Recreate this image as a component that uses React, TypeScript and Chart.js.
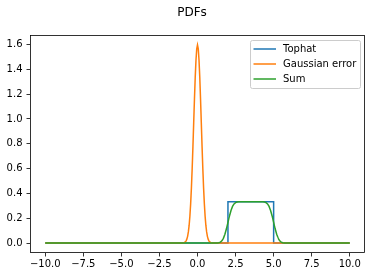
import React, { useEffect, useRef } from 'react';
import { Chart, registerables } from 'chart.js';
Chart.register(...registerables);

const title = 'PDFs';
const seriesNames = ['Tophat', 'Gaussian error', 'Sum'];
const seriesColors = ['#1f77b4', '#ff7f0e', '#2ca02c'];
const xTicks = [-10, -7.5, -5, -2.5, 0, 2.5, 5, 7.5, 10];
const yTicks = [0, 0.2, 0.4, 0.6, 0.8, 1.0, 1.2, 1.4, 1.6];

const tophatX = [-10, 2, 2, 5, 5, 10];
const tophatY = [0, 0, 0.333, 0.333, 0, 0];

const gaussX = [-10, -1.0, -0.9, -0.85, -0.8, -0.75, -0.7, -0.65, -0.6, -0.55, -0.5, -0.45, -0.4, -0.35, -0.3, -0.25, -0.2, -0.15, -0.1, -0.05,
  0, 0.05, 0.1, 0.15, 0.2, 0.25, 0.3, 0.35, 0.4, 0.45, 0.5, 0.55, 0.6, 0.65, 0.7, 0.75, 0.8, 0.85, 0.9, 1.0, 10];
const gaussY = [0, 0.0005, 0.0024, 0.0049, 0.0095, 0.0177, 0.0317, 0.0543, 0.0896, 0.142, 0.216, 0.316, 0.444, 0.599, 0.777, 0.968, 1.159, 1.333, 1.473, 1.564,
  1.596, 1.564, 1.473, 1.333, 1.159, 0.968, 0.777, 0.599, 0.444, 0.316, 0.216, 0.142, 0.0896, 0.0543, 0.0317, 0.0177, 0.0095, 0.0049, 0.0024, 0.0005, 0];

const sumX = [-10, 1.0, 1.2, 1.3, 1.4, 1.5, 1.6, 1.7, 1.8, 1.9, 2.0, 2.1, 2.2, 2.3, 2.4, 2.5, 2.6, 2.7, 2.8, 3.0,
  4.0, 4.2, 4.3, 4.4, 4.5, 4.6, 4.7, 4.8, 4.9, 5.0, 5.1, 5.2, 5.3, 5.4, 5.5, 5.6, 5.7, 5.8, 6.0, 10];
const sumY = [0, 0, 0.0002, 0.0009, 0.0027, 0.0076, 0.0183, 0.0384, 0.0706, 0.1149, 0.1667, 0.2185, 0.2627, 0.2950, 0.3151, 0.3257, 0.3306, 0.3325, 0.3331, 0.3333,
  0.3333, 0.3331, 0.3325, 0.3306, 0.3257, 0.3151, 0.2950, 0.2627, 0.2185, 0.1667, 0.1149, 0.0706, 0.0384, 0.0183, 0.0076, 0.0027, 0.0009, 0.0002, 0, 0];

const FONT = '"DejaVu Sans", sans-serif';
const fmt = (v: number) => (v < 0 ? '\u2212' : '') + Math.abs(v).toFixed(1);
const toPts = (xs: number[], ys: number[]) => xs.map((x, i) => ({ x, y: ys[i] }));

const decorPlugin = {
  id: 'decor',
  afterDraw(chart: any) {
    const ctx = chart.ctx as CanvasRenderingContext2D;
    const a = chart.chartArea;
    ctx.save();
    // frame
    ctx.strokeStyle = '#000';
    ctx.lineWidth = 0.8;
    ctx.strokeRect(Math.round(a.left) + 0.5, Math.round(a.top) + 0.5, Math.round(a.right - a.left) - 1, Math.round(a.bottom - a.top) - 1);
    // legend
    const bx = 250.5, by = 40.5, bw = 110, bh = 48, r = 2;
    ctx.beginPath();
    ctx.moveTo(bx + r, by);
    ctx.lineTo(bx + bw - r, by);
    ctx.quadraticCurveTo(bx + bw, by, bx + bw, by + r);
    ctx.lineTo(bx + bw, by + bh - r);
    ctx.quadraticCurveTo(bx + bw, by + bh, bx + bw - r, by + bh);
    ctx.lineTo(bx + r, by + bh);
    ctx.quadraticCurveTo(bx, by + bh, bx, by + bh - r);
    ctx.lineTo(bx, by + r);
    ctx.quadraticCurveTo(bx, by, bx + r, by);
    ctx.closePath();
    ctx.fillStyle = 'rgba(255,255,255,0.8)';
    ctx.fill();
    ctx.strokeStyle = '#cccccc';
    ctx.lineWidth = 1;
    ctx.stroke();
    ctx.font = '10px ' + FONT;
    ctx.textBaseline = 'middle';
    ctx.textAlign = 'left';
    seriesNames.forEach((name, i) => {
      const y = 49 + i * 15;
      ctx.strokeStyle = seriesColors[i];
      ctx.lineWidth = 1.5;
      ctx.beginPath();
      ctx.moveTo(253.5, y);
      ctx.lineTo(276, y);
      ctx.stroke();
      ctx.fillStyle = '#000';
      ctx.fillText(name, 283, y);
    });
    // title
    ctx.font = '12px ' + FONT;
    ctx.textAlign = 'center';
    ctx.fillStyle = '#000';
    ctx.fillText(title, 192, 13);
    ctx.restore();
  },
};

export default function App() {
  const ref = useRef<HTMLCanvasElement>(null);
  useEffect(() => {
    document.body.style.margin = '0';
    const gridOpts = { display: true, drawOnChartArea: false, drawTicks: true, tickLength: 3.5, tickColor: '#000', tickWidth: 0.8 };
    const tickFont = { family: FONT, size: 10 };
    const chart = new Chart(ref.current as HTMLCanvasElement, {
      type: 'line',
      data: {
        datasets: [
          { label: seriesNames[0], data: toPts(tophatX, tophatY), borderColor: seriesColors[0], order: 3 },
          { label: seriesNames[1], data: toPts(gaussX, gaussY), borderColor: seriesColors[1], order: 2 },
          { label: seriesNames[2], data: toPts(sumX, sumY), borderColor: seriesColors[2], order: 1 },
        ],
      },
      options: {
        animation: false,
        responsive: false,
        layout: { padding: { top: 35, right: 10, left: 0, bottom: 0 } },
        plugins: { legend: { display: false }, tooltip: { enabled: false }, title: { display: false } },
        elements: { point: { radius: 0 }, line: { borderWidth: 1.5, tension: 0.000001, fill: false, capBezierPoints: false } },
        scales: {
          x: {
            type: 'linear', min: -11, max: 11,
            afterFit: (s: any) => { s.height = 24; },
            afterBuildTicks: (s: any) => { s.ticks = xTicks.map((v) => ({ value: v })); },
            grid: gridOpts as any,
            border: { display: false },
            ticks: { color: '#000', font: tickFont, padding: 2, maxRotation: 0, autoSkip: false, callback: (v: any) => fmt(Number(v)) },
          },
          y: {
            type: 'linear', min: -0.08, max: 1.676,
            afterFit: (s: any) => { s.width = 30; },
            afterBuildTicks: (s: any) => { s.ticks = yTicks.map((v) => ({ value: v })); },
            grid: gridOpts as any,
            border: { display: false },
            ticks: { color: '#000', font: tickFont, padding: 4, autoSkip: false, callback: (v: any) => fmt(Number(v)) },
          },
        },
      },
      plugins: [decorPlugin],
    } as any);
    return () => chart.destroy();
  }, []);
  return <canvas ref={ref} width={375} height={277} style={{ display: 'block' }} />;
}
